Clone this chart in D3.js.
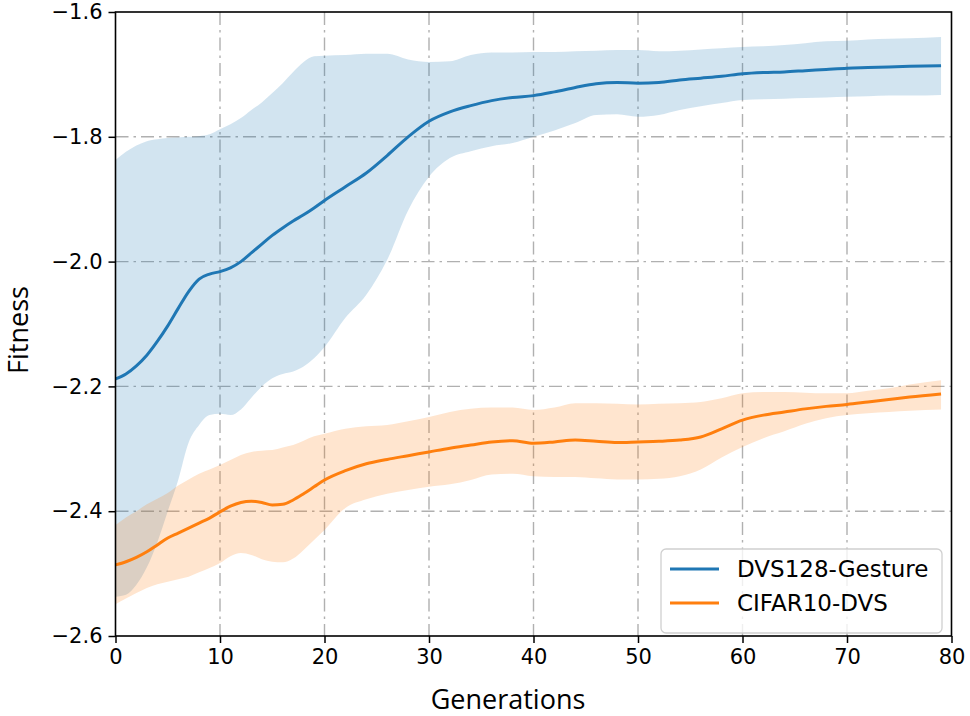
<!DOCTYPE html>
<html>
<head>
<meta charset="utf-8">
<script src="https://cdn.jsdelivr.net/npm/d3@7"></script>
<style>
  body { margin: 0; background: #fff; }
  svg { display: block; }
</style>
</head>
<body>
<div id="chart"></div>
<script>
const width = 970;
const height = 716;
const margin = {left: 115.5, right: 18.5, top: 12, bottom: 80};

// generations
const gens = [0,1,2,3,4,5,6,7,8,9,10,11,12,13,14,15,16,17,18,19,20,22,24,26,28,30,32,34,36,38,40,42,44,46,48,50,52,54,56,58,60,62,64,66,68,70,72,74,76,79];

const gestureMean = [-2.188,-2.180,-2.167,-2.150,-2.128,-2.103,-2.075,-2.048,-2.028,-2.020,-2.016,-2.010,-2.000,-1.986,-1.972,-1.958,-1.946,-1.935,-1.925,-1.914,-1.902,-1.880,-1.858,-1.830,-1.800,-1.775,-1.760,-1.750,-1.742,-1.737,-1.734,-1.728,-1.721,-1.715,-1.713,-1.714,-1.713,-1.709,-1.706,-1.703,-1.699,-1.697,-1.696,-1.694,-1.692,-1.690,-1.689,-1.688,-1.687,-1.686];
const gestureHigh = [-1.837,-1.824,-1.814,-1.807,-1.804,-1.802,-1.801,-1.800,-1.799,-1.796,-1.788,-1.780,-1.770,-1.757,-1.745,-1.730,-1.714,-1.696,-1.680,-1.671,-1.670,-1.669,-1.667,-1.667,-1.676,-1.680,-1.679,-1.669,-1.665,-1.665,-1.664,-1.664,-1.663,-1.662,-1.661,-1.661,-1.663,-1.662,-1.660,-1.658,-1.656,-1.655,-1.653,-1.650,-1.647,-1.646,-1.644,-1.643,-1.642,-1.640];
const gestureLow = [-2.537,-2.534,-2.518,-2.490,-2.450,-2.400,-2.350,-2.290,-2.262,-2.246,-2.244,-2.246,-2.237,-2.218,-2.200,-2.187,-2.180,-2.176,-2.168,-2.155,-2.137,-2.090,-2.053,-1.997,-1.918,-1.864,-1.834,-1.823,-1.815,-1.810,-1.800,-1.790,-1.778,-1.765,-1.764,-1.768,-1.765,-1.757,-1.751,-1.746,-1.741,-1.740,-1.739,-1.738,-1.737,-1.736,-1.735,-1.734,-1.734,-1.733];

const cifarMean = [-2.486,-2.481,-2.474,-2.465,-2.454,-2.443,-2.435,-2.427,-2.419,-2.411,-2.401,-2.392,-2.386,-2.384,-2.386,-2.390,-2.389,-2.382,-2.372,-2.361,-2.350,-2.335,-2.324,-2.317,-2.311,-2.305,-2.299,-2.294,-2.289,-2.287,-2.291,-2.289,-2.286,-2.288,-2.290,-2.289,-2.288,-2.286,-2.281,-2.268,-2.254,-2.246,-2.241,-2.236,-2.232,-2.229,-2.225,-2.221,-2.217,-2.212];
const cifarHigh = [-2.422,-2.410,-2.400,-2.389,-2.380,-2.371,-2.359,-2.349,-2.340,-2.333,-2.326,-2.318,-2.310,-2.305,-2.303,-2.302,-2.298,-2.294,-2.287,-2.280,-2.276,-2.268,-2.264,-2.262,-2.256,-2.249,-2.241,-2.236,-2.234,-2.234,-2.238,-2.234,-2.227,-2.227,-2.228,-2.229,-2.228,-2.227,-2.225,-2.219,-2.211,-2.209,-2.209,-2.210,-2.211,-2.211,-2.207,-2.203,-2.197,-2.190];
const cifarLow = [-2.549,-2.540,-2.531,-2.523,-2.517,-2.513,-2.509,-2.505,-2.498,-2.491,-2.483,-2.472,-2.467,-2.470,-2.477,-2.481,-2.482,-2.476,-2.462,-2.446,-2.430,-2.395,-2.381,-2.372,-2.366,-2.361,-2.357,-2.350,-2.341,-2.340,-2.344,-2.345,-2.345,-2.347,-2.349,-2.349,-2.348,-2.344,-2.333,-2.314,-2.297,-2.283,-2.272,-2.260,-2.251,-2.246,-2.243,-2.241,-2.239,-2.237];

const xTicks = [0, 10, 20, 30, 40, 50, 60, 70, 80];
const yTicks = [-2.6, -2.4, -2.2, -2.0, -1.8, -1.6];

const series = [
  {name: 'DVS128-Gesture', color: '#1f77b4', mean: gestureMean, low: gestureLow, high: gestureHigh},
  {name: 'CIFAR10-DVS', color: '#ff7f0e', mean: cifarMean, low: cifarLow, high: cifarHigh}
];

const svg = d3.select('#chart')
  .append('svg')
  .attr('width', width)
  .attr('height', height);

const x = d3.scaleLinear().domain([0, 80]).range([margin.left, width - margin.right]);
const y = d3.scaleLinear().domain([-2.6, -1.6]).range([height - margin.bottom, margin.top]);

// grid
const grid = svg.append('g')
  .attr('stroke', '#b0b0b0')
  .attr('stroke-width', 1.4)
  .attr('stroke-dasharray', '13,5,2.5,5');
grid.selectAll('.vg').data(xTicks.slice(1, -1)).enter().append('line')
  .attr('x1', d => x(d)).attr('x2', d => x(d))
  .attr('y1', y(-1.6)).attr('y2', y(-2.6));
grid.selectAll('.hg').data(yTicks.slice(1, -1)).enter().append('line')
  .attr('y1', d => y(d)).attr('y2', d => y(d))
  .attr('x1', x(0)).attr('x2', x(80));

for (let s of series) {
  const pts = gens.map((g, i) => ({g: g, m: s.mean[i], lo: s.low[i], hi: s.high[i]}));

  const area = d3.area()
    .x(d => x(d.g))
    .y0(d => y(d.lo))
    .y1(d => y(d.hi))
    .curve(d3.curveMonotoneX);

  svg.append('path')
    .datum(pts)
    .attr('d', area)
    .attr('fill', s.color)
    .attr('fill-opacity', 0.2);

  const line = d3.line()
    .x(d => x(d.g))
    .y(d => y(d.m))
    .curve(d3.curveMonotoneX);

  svg.append('path')
    .datum(pts)
    .attr('d', line)
    .attr('fill', 'none')
    .attr('stroke', s.color)
    .attr('stroke-width', 3);
}

// axes
const xAxis = svg.append('g')
  .attr('transform', 'translate(0,' + y(-2.6) + ')')
  .call(d3.axisBottom(x).tickValues(xTicks).tickSize(7).tickPadding(6).tickFormat(d3.format('d')));
const yAxis = svg.append('g')
  .attr('transform', 'translate(' + x(0) + ',0)')
  .call(d3.axisLeft(y).tickValues(yTicks).tickSize(7).tickPadding(6).tickFormat(d => d3.format('.1f')(d).replace('-', '\u2212')));

for (let ax of [xAxis, yAxis]) {
  ax.select('.domain').remove();
  ax.selectAll('line').attr('stroke', '#000').attr('stroke-width', 1.5);
  ax.selectAll('text')
    .attr('fill', '#000')
    .style('font-family', 'DejaVu Sans')
    .style('font-size', '21px');
}

// frame
svg.append('rect')
  .attr('x', x(0)).attr('y', y(-1.6))
  .attr('width', x(80) - x(0)).attr('height', y(-2.6) - y(-1.6))
  .attr('fill', 'none')
  .attr('stroke', '#000')
  .attr('stroke-width', 1.6);

// axis labels
svg.append('text')
  .attr('x', 508).attr('y', 709)
  .attr('text-anchor', 'middle')
  .style('font-family', 'Open Sans')
  .style('font-size', '27px')
  .text('Generations');

svg.append('text')
  .attr('transform', 'translate(28,330) rotate(-90)')
  .attr('text-anchor', 'middle')
  .style('font-family', 'Open Sans')
  .style('font-size', '27px')
  .text('Fitness');

// legend
const lg = svg.append('g').attr('transform', 'translate(661,549)');
lg.append('rect')
  .attr('width', 281).attr('height', 84)
  .attr('rx', 5)
  .attr('fill', '#fff').attr('fill-opacity', 0.8)
  .attr('stroke', '#d0d0d0').attr('stroke-width', 1.3);
series.forEach((s, i) => {
  const cy = 20 + i * 34;
  lg.append('line')
    .attr('x1', 9).attr('x2', 58)
    .attr('y1', cy).attr('y2', cy)
    .attr('stroke', s.color).attr('stroke-width', 3);
  lg.append('text')
    .attr('x', 76).attr('y', cy + 8)
    .style('font-family', 'DejaVu Sans')
    .style('font-size', '23px')
    .text(s.name);
});
</script>
</body>
</html>
